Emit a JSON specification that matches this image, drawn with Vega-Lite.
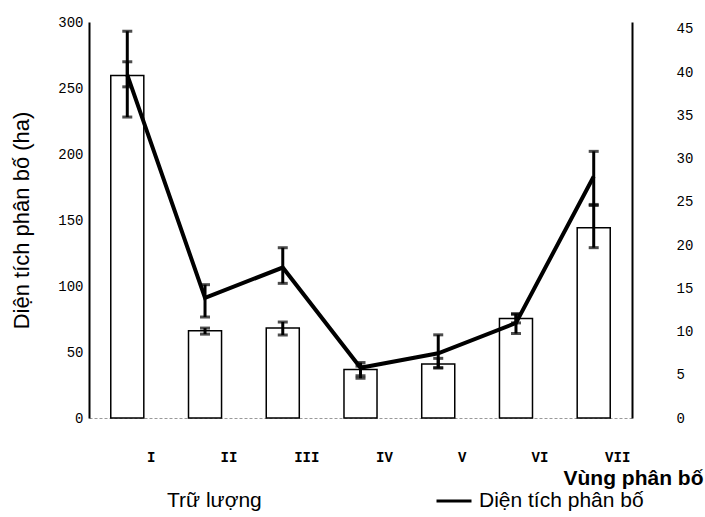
{
  "$schema": "https://vega.github.io/schema/vega-lite/v6.json",
  "width": 543,
  "height": 396,
  "autosize": {"type": "none"},
  "padding": {"left": 89, "top": 22, "right": 73, "bottom": 99},
  "background": "white",
  "config": {"view": {"stroke": null}, "font": "Liberation Sans"},
  "data": {
    "values": [
      {"zone": "I", "area": 260, "area_lo": 228, "area_hi": 293, "reserve": 39.6, "res_lo": 38.3, "res_hi": 41.2},
      {"zone": "II", "area": 91, "area_lo": 76.5, "area_hi": 101, "reserve": 10.1, "res_lo": 9.7, "res_hi": 10.4},
      {"zone": "III", "area": 114, "area_lo": 102, "area_hi": 129, "reserve": 10.4, "res_lo": 9.6, "res_hi": 11.1},
      {"zone": "IV", "area": 38, "area_lo": 32, "area_hi": 42, "reserve": 5.6, "res_lo": 4.6, "res_hi": 6.0},
      {"zone": "V", "area": 49, "area_lo": 38, "area_hi": 63, "reserve": 6.25, "res_lo": 5.8, "res_hi": 6.9},
      {"zone": "VI", "area": 72, "area_lo": 64, "area_hi": 79, "reserve": 11.5, "res_lo": 11.0, "res_hi": 12.0},
      {"zone": "VII", "area": 183, "area_lo": 161, "area_hi": 202, "reserve": 22.0, "res_lo": 19.7, "res_hi": 24.7}
    ]
  },
  "encoding": {
    "x": {
      "field": "zone",
      "type": "nominal",
      "sort": null,
      "scale": {"paddingInner": 0.575, "paddingOuter": 0.28},
      "axis": {
        "title": "Vùng phân bố",
        "titleFont": "Liberation Sans",
        "titleFontSize": 21,
        "titleFontWeight": "bold",
        "titleColor": "black",
        "titleAlign": "right",
        "titleBaseline": "alphabetic",
        "titleX": 614,
        "titleY": 66,
        "labelAngle": 0,
        "labelOffset": 24,
        "labelPadding": 32,
        "labelFont": "Liberation Mono",
        "labelFontWeight": "bold",
        "labelFontSize": 14,
        "labelColor": "black",
        "ticks": false,
        "domainColor": "#999999",
        "domainDash": [3, 2],
        "domainWidth": 1
      }
    }
  },
  "layer": [
    {
      "layer": [
        {
          "mark": {"type": "bar", "stroke": "black", "strokeWidth": 1.5},
          "encoding": {
            "y": {
              "field": "reserve",
              "type": "quantitative",
              "scale": {"domain": [0, 45.8], "nice": false},
              "axis": {
                "orient": "right",
                "values": [0, 5, 10, 15, 20, 25, 30, 35, 40, 45],
                "title": null,
                "grid": false,
                "ticks": false,
                "labelPadding": 44,
                "labelFont": "Liberation Mono",
                "labelFontSize": 14,
                "labelColor": "black",
                "domainColor": "black",
                "domainWidth": 2
              }
            },
            "color": {
              "datum": "Trữ lượng",
              "scale": {"domain": ["Trữ lượng", "Diện tích phân bố"], "range": ["white", "black"]},
              "legend": {
                "orient": "none",
                "legendX": 34,
                "legendY": 460,
                "direction": "horizontal",
                "title": null,
                "symbolType": "stroke",
                "symbolSize": 1225,
                "symbolStrokeWidth": 3,
                "labelFont": "Liberation Sans",
                "labelFontSize": 21,
                "labelColor": "black",
                "labelOffset": 6,
                "labelLimit": 300,
                "columnPadding": 168
              }
            }
          }
        },
        {
          "mark": {"type": "errorbar", "ticks": true, "size": 10, "thickness": 3, "color": "black"},
          "encoding": {
            "y": {"field": "res_lo", "type": "quantitative", "title": null},
            "y2": {"field": "res_hi"}
          }
        }
      ]
    },
    {
      "layer": [
        {
          "mark": {"type": "line", "strokeWidth": 4},
          "encoding": {
            "y": {
              "field": "area",
              "type": "quantitative",
              "title": "Diện tích phân bố (ha)",
              "scale": {"domain": [0, 300], "nice": false},
              "axis": {
                "orient": "left",
                "values": [0, 50, 100, 150, 200, 250, 300],
                "title": "Diện tích phân bố (ha)",
                "titleFont": "Liberation Sans",
                "titleFontSize": 22,
                "titleFontWeight": "normal",
                "titleColor": "black",
                "titleX": -68,
                "titleY": 198,
                "titleBaseline": "middle",
                "grid": false,
                "ticks": false,
                "labelPadding": 6,
                "labelFont": "Liberation Mono",
                "labelFontSize": 14,
                "labelColor": "black",
                "domainColor": "black",
                "domainWidth": 2
              }
            },
            "color": {"datum": "Diện tích phân bố"}
          }
        },
        {
          "mark": {"type": "errorbar", "ticks": true, "size": 10, "thickness": 3, "color": "black"},
          "encoding": {
            "y": {"field": "area_lo", "type": "quantitative", "title": "Diện tích phân bố (ha)"},
            "y2": {"field": "area_hi"}
          }
        }
      ]
    }
  ],
  "resolve": {"scale": {"y": "independent"}}
}
